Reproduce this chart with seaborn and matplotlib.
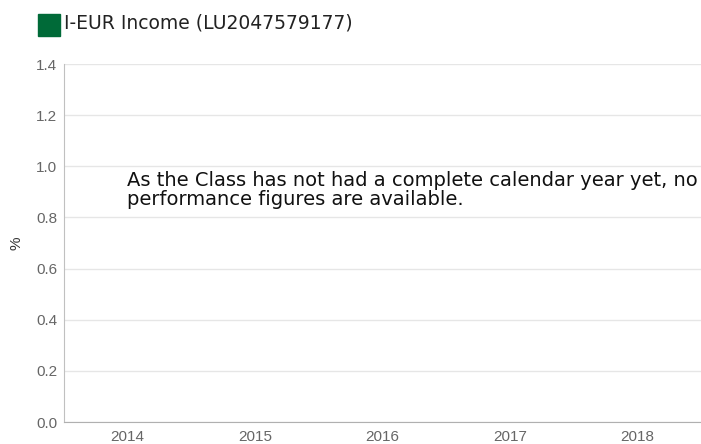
import numpy as np
import pandas as pd
import seaborn as sns
import matplotlib
matplotlib.use("Agg")
import matplotlib.pyplot as plt
from matplotlib.patches import Rectangle

# no calendar-year returns yet for this share class
years = ["2014", "2015", "2016", "2017", "2018"]
returns = [np.nan, np.nan, np.nan, np.nan, np.nan]
y_ticks = [0.0, 0.2, 0.4, 0.6, 0.8, 1.0, 1.2, 1.4]
series_name = "I-EUR Income (LU2047579177)"
note = "As the Class has not had a complete calendar year yet, no\nperformance figures are available."

sns.set_style("white")
plt.rcParams["font.family"] = ["DejaVu Sans"]

W, H = 701, 444
fig = plt.figure(figsize=(W / 100, H / 100), dpi=100)
ax = fig.add_axes([64 / W, 22 / H, 637 / W, 358 / H])

df = pd.DataFrame({"year": years, "ret": returns})
sns.barplot(data=df, x="year", y="ret", order=years, color="#006a38", ax=ax)

ax.set_xlim(-0.5, len(years) - 0.5)
ax.set_ylim(0, 1.4)
ax.set_yticks(y_ticks)
ax.set_yticklabels([f"{v:.1f}" for v in y_ticks])
ax.set_xticks(range(len(years)))
ax.set_xticklabels(years)
ax.grid(axis="y", color="#e6e6e6", linewidth=1)
ax.set_axisbelow(True)
for s in ["top", "right"]:
    ax.spines[s].set_visible(False)
ax.spines["left"].set_color("#c0c0c0")
ax.spines["bottom"].set_color("#b0b0b0")
ax.tick_params(length=0, colors="#666666", labelsize=11)
ax.tick_params(axis="y", pad=5)
ax.tick_params(axis="x", pad=6)
for lab in ax.get_xticklabels() + ax.get_yticklabels():
    lab.set_family("Liberation Sans")
ax.set_xlabel("")
ax.set_ylabel("%", fontsize=11, color="#333333", labelpad=9, family="Liberation Sans")

# legend swatch + series name
fig.patches.append(Rectangle((38 / W, 1 - 36 / H), 22 / W, 22 / H,
                             transform=fig.transFigure, color="#006a38"))
fig.text(64 / W, 1 - 23 / H, series_name, fontsize=13.5, color="#222222",
         va="center", ha="left")

ax.text((127 - 64) / 637, (422 - 190) / 358, note, transform=ax.transAxes,
        fontsize=14, color="#111111", ha="left", va="center", linespacing=0.95)

fig.savefig("out.png", dpi=100)
